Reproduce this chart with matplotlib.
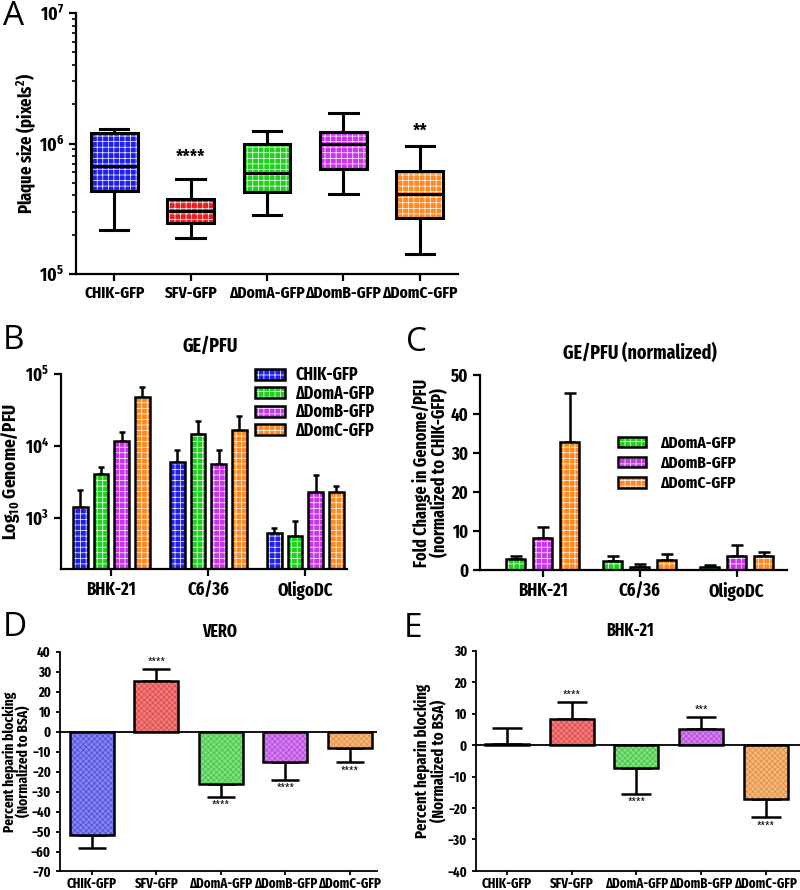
import numpy as np
import matplotlib.pyplot as plt
import matplotlib.patches as mpatches
from matplotlib import font_manager as fm
from matplotlib.transforms import Bbox


def pick_font():
    # the original figure uses a narrow bold sans; take the first static bold one found
    prefs = ['Liberation Sans Narrow', 'Arial Narrow', 'Fira Sans Extra Condensed',
             'Roboto Condensed', 'PT Sans Narrow', 'IBM Plex Sans Condensed',
             'Fira Sans Condensed', 'Asap Condensed']
    for p in prefs:
        for f in fm.fontManager.ttflist:
            w = f.weight if isinstance(f.weight, int) else (700 if 'bold' in str(f.weight) else 400)
            if f.name == p and w == 700 and f.style == 'normal' and '[' not in f.fname:
                return p
    return 'Liberation Sans'


FONT = pick_font()
plt.rcParams['font.family'] = [FONT, 'Liberation Sans', 'DejaVu Sans']
plt.rcParams['font.weight'] = 'bold'
plt.rcParams['axes.labelweight'] = 'bold'
plt.rcParams['mathtext.fontset'] = 'custom'
plt.rcParams['mathtext.rm'] = FONT + ':bold'
plt.rcParams['mathtext.it'] = FONT + ':bold'
plt.rcParams['mathtext.bf'] = FONT + ':bold'
plt.rcParams['hatch.linewidth'] = 0.5

# ---------------- data ----------------
viruses = ['CHIK-GFP', 'SFV-GFP', 'ΔDomA-GFP', 'ΔDomB-GFP', 'ΔDomC-GFP']

# A: plaque size box plots (pixels^2)
plaque_whislo = [2.17e5, 1.88e5, 2.82e5, 4.10e5, 1.42e5]
plaque_q1 = [4.35e5, 2.46e5, 4.23e5, 6.38e5, 2.70e5]
plaque_med = [6.76e5, 3.02e5, 5.97e5, 9.86e5, 4.10e5]
plaque_q3 = [1.21e6, 3.76e5, 9.90e5, 1.22e6, 6.12e5]
plaque_whishi = [1.29e6, 5.35e5, 1.25e6, 1.70e6, 9.57e5]
plaque_stars = ['', '****', '', '', '**']

# B: GE/PFU per cell line
cells = ['BHK-21', 'C6/36', 'OligoDC']
ge_names = ['CHIK-GFP', 'ΔDomA-GFP', 'ΔDomB-GFP', 'ΔDomC-GFP']
ge_chik = [1450, 6100, 620]
ge_chik_sd = [1020, 2700, 120]
ge_doma = [4070, 14900, 577]
ge_doma_sd = [1030, 7100, 340]
ge_domb = [11700, 5580, 2280]
ge_domb_sd = [4000, 3220, 1700]
ge_domc = [47700, 16900, 2320]
ge_domc_sd = [17800, 9500, 460]

# C: GE/PFU normalized to CHIK-GFP
norm_names = ['ΔDomA-GFP', 'ΔDomB-GFP', 'ΔDomC-GFP']
norm_doma = [2.8, 2.3, 0.8]
norm_doma_sd = [0.7, 1.2, 0.5]
norm_domb = [8.1, 0.8, 3.5]
norm_domb_sd = [2.8, 0.7, 2.9]
norm_domc = [32.8, 2.6, 3.6]
norm_domc_sd = [12.7, 1.6, 1.0]

# D/E: heparin blocking (%)
vero_block = [-51.9, 25.2, -26.2, -15.4, -8.3]
vero_sd = [6.3, 6.1, 6.6, 8.8, 7.1]
vero_stars = ['', '****', '****', '****', '****']
bhk_block = [0.3, 8.4, -7.2, 5.0, -17.1]
bhk_sd = [5.0, 5.2, 8.2, 4.0, 5.9]
bhk_stars = ['', '****', '****', '***', '****']

# colours
strong = {'CHIK-GFP': '#1f1fee', 'SFV-GFP': '#ee1c1c', 'ΔDomA-GFP': '#1fd01f',
          'ΔDomB-GFP': '#cc33ee', 'ΔDomC-GFP': '#ff8a22'}
light = {'CHIK-GFP': '#8585f2', 'SFV-GFP': '#f27a7a', 'ΔDomA-GFP': '#7ee07e',
         'ΔDomB-GFP': '#d67ef2', 'ΔDomC-GFP': '#f5b77a'}
light_h = {'CHIK-GFP': '#4a4ad6', 'SFV-GFP': '#d84848', 'ΔDomA-GFP': '#46bf46',
           'ΔDomB-GFP': '#b048d6', 'ΔDomC-GFP': '#dd8e45'}


def hatched_bars(ax, x, h, width, fc, hc, hatch, sd, capsize, lw, elw):
    h = np.asarray(h, float)
    sd = np.asarray(sd, float)
    lo = np.where(h < 0, sd, 0)
    hi = np.where(h >= 0, sd, 0)
    ax.errorbar(x, h, yerr=[lo, hi], fmt='none', ecolor='k', elinewidth=elw,
                capsize=capsize, capthick=elw, zorder=1)
    b1 = ax.bar(x, h, width, color=fc, edgecolor=hc, hatch=hatch, linewidth=0, zorder=2)
    b2 = ax.bar(x, h, width, fill=False, edgecolor='k', linewidth=lw, zorder=3)
    return (b1, b2)


def style_axes(ax, lw):
    for s in ['top', 'right']:
        ax.spines[s].set_visible(False)
    for s in ['left', 'bottom']:
        ax.spines[s].set_linewidth(lw)
    ax.tick_params(width=lw, direction='out')


fig = plt.figure(figsize=(8, 8.9), dpi=100)

# ---------------- A ----------------
axA = fig.add_axes([0.095, 0.6921, 0.4775, 0.2933])
stats = []
for i in range(len(viruses)):
    stats.append(dict(med=plaque_med[i], q1=plaque_q1[i], q3=plaque_q3[i],
                      whislo=plaque_whislo[i], whishi=plaque_whishi[i], fliers=[]))
xa = np.arange(len(viruses))
bp = axA.bxp(stats, positions=xa, widths=0.61, capwidths=0.37, patch_artist=True,
             showfliers=False, manage_ticks=False,
             boxprops=dict(linewidth=0),
             medianprops=dict(color='k', linewidth=2.2, zorder=5),
             whiskerprops=dict(color='k', linewidth=2.2),
             capprops=dict(color='k', linewidth=2.2))
for box, v in zip(bp['boxes'], viruses):
    box.set_facecolor(strong[v])
    box.set_edgecolor('white')
    box.set_hatch('+++')
    box.set_linewidth(0)
    axA.add_patch(mpatches.PathPatch(box.get_path(), transform=box.get_transform(),
                                     fill=False, edgecolor='k', linewidth=2.2, zorder=4))
axA.set_yscale('log')
axA.set_ylim(1e5, 1e7)
axA.set_xlim(-0.5, 4.5)
axA.set_yticks([1e5, 1e6, 1e7])
axA.set_yticklabels(['$10^{5}$', '$10^{6}$', '$10^{7}$'], fontsize=13.5)
axA.set_xticks(xa)
axA.set_xticklabels(viruses, fontsize=12)
axA.set_ylabel('Plaque size (pixels$^2$)', fontsize=13)
axA.yaxis.set_label_coords(-0.1, 0.5)
style_axes(axA, 1.6)
axA.tick_params(which='major', length=5)
axA.tick_params(which='minor', length=3, width=1.2)
for i, s in enumerate(plaque_stars):
    if s:
        off = 9 if len(s) > 2 else 4
        axA.annotate(s, (xa[i], plaque_whishi[i]), xytext=(0, off),
                     textcoords='offset points', ha='center', va='bottom', fontsize=13.5)

# ---------------- B ----------------
axB = fig.add_axes([0.07625, 0.361, 0.3575, 0.2188])
xg = np.arange(len(cells))
pitch_b = 0.213
handles = []
for k, (nm, vals, sd) in enumerate(zip(ge_names, [ge_chik, ge_doma, ge_domb, ge_domc],
                                       [ge_chik_sd, ge_doma_sd, ge_domb_sd, ge_domc_sd])):
    handles.append(hatched_bars(axB, xg + (k - 1.5) * pitch_b, vals, 0.152, strong[nm],
                                'white', '+++', sd, 2.5, 1.8, 1.8))
axB.set_yscale('log')
axB.set_ylim(200, 1e5)
axB.set_xlim(-0.52, 2.43)
axB.set_yticks([1e3, 1e4, 1e5])
axB.set_yticklabels(['$10^{3}$', '$10^{4}$', '$10^{5}$'], fontsize=13)
axB.yaxis.set_minor_locator(plt.NullLocator())
axB.set_xticks(xg)
axB.set_xticklabels(cells, fontsize=13)
axB.set_ylabel('Log$_{10}$ Genome/PFU', fontsize=13.5)
axB.yaxis.set_label_coords(-0.135, 0.5)
style_axes(axB, 1.6)
axB.tick_params(length=5)
axB.text(0.52, 1.144, 'GE/PFU', transform=axB.transAxes, ha='center', va='center', fontsize=14)
axB.legend(handles, ge_names, loc='upper left', bbox_to_anchor=(0.68, 1.04), frameon=False,
           borderpad=0, borderaxespad=0, labelspacing=0.05, handlelength=1.7,
           handleheight=0.6, handletextpad=0.6, fontsize=12.5)

# ---------------- C ----------------
axC = fig.add_axes([0.6, 0.3596, 0.3834, 0.2191])
pitch_c = 0.278
handles = []
for k, (nm, vals, sd) in enumerate(zip(norm_names, [norm_doma, norm_domb, norm_domc],
                                       [norm_doma_sd, norm_domb_sd, norm_domc_sd])):
    handles.append(hatched_bars(axC, xg + (k - 1) * pitch_c, vals, 0.196, strong[nm],
                                'white', '+++', sd, 4, 1.8, 1.8))
axC.set_ylim(0, 50)
axC.set_xlim(-0.644, 2.515)
axC.set_yticks([0, 10, 20, 30, 40, 50])
axC.tick_params(axis='y', labelsize=13)
axC.set_xticks(xg)
axC.set_xticklabels(cells, fontsize=13)
axC.set_ylabel('Fold Change in Genome/PFU\n(normalized to CHIK-GFP)', fontsize=12.5,
               multialignment='center', linespacing=1.0)
axC.yaxis.set_label_coords(-0.1, 0.5)
style_axes(axC, 1.6)
axC.tick_params(length=5)
axC.text(0.522, 1.113, 'GE/PFU (normalized)', transform=axC.transAxes, ha='center',
         va='center', fontsize=14)
axC.legend(handles, norm_names, loc='upper left', bbox_to_anchor=(0.45, 0.69), frameon=False,
           borderpad=0, borderaxespad=0, labelspacing=0.25, handlelength=1.7,
           handleheight=0.6, handletextpad=0.8, fontsize=12)


# ---------------- D / E ----------------
def heparin_panel(ax, vals, sd, stars, ylim, yticks, xlim, title, tx, capsize, lab_fs):
    x = np.arange(len(viruses))
    for i, v in enumerate(viruses):
        hatched_bars(ax, [x[i]], [vals[i]], 0.68, light[v], light_h[v], 'xxxxxx',
                     [sd[i]], capsize, 1.8, 1.8)
    ax.axhline(0, color='k', linewidth=1.3, zorder=4)
    ax.set_ylim(*ylim)
    ax.set_xlim(*xlim)
    ax.set_yticks(yticks)
    ax.tick_params(axis='y', labelsize=10)
    ax.set_xticks(x)
    ax.set_xticklabels(viruses, fontsize=10)
    ax.set_ylabel('Percent heparin blocking\n(Normalized to BSA)', fontsize=lab_fs,
                  multialignment='center', linespacing=0.95)
    style_axes(ax, 1.3)
    ax.tick_params(length=3)
    ax.tick_params(axis='x', pad=1)
    ax.text(tx, 1.09, title, transform=ax.transAxes, ha='center', va='center', fontsize=12.5)
    for i, s in enumerate(stars):
        if not s:
            continue
        if vals[i] >= 0:
            ax.annotate(s, (x[i], vals[i] + sd[i]), xytext=(0, 1.5), textcoords='offset points',
                        ha='center', va='bottom', fontsize=8.5, fontweight='normal')
        else:
            ax.annotate(s, (x[i], vals[i] - sd[i]), xytext=(0, -2), textcoords='offset points',
                        ha='center', va='top', fontsize=8.5, fontweight='normal')


axD = fig.add_axes([0.075, 0.0208, 0.396, 0.247])
heparin_panel(axD, vero_block, vero_sd, vero_stars, (-70, 40), np.arange(-70, 41, 10),
              (-0.496, 4.42), 'VERO', 0.505, 10, 10.5)
axD.yaxis.set_label_coords(-0.092, 0.5)

axE = fig.add_axes([0.595, 0.0214, 0.405, 0.2474])
heparin_panel(axE, bhk_block, bhk_sd, bhk_stars, (-40, 30), np.arange(-40, 31, 10),
              (-0.48, 4.53), 'BHK-21', 0.475, 11, 11.5)
axE.yaxis.set_label_coords(-0.09, 0.5)

# clip the last D label at the panel edge like the original
lab = axD.get_xticklabels()[-1]
lab.set_clip_box(Bbox([[0, 0], [383, 890]]))
lab.set_clip_on(True)

# panel letters
for letter, xx, yy in [('A', 0.004, 0.982), ('B', 0.004, 0.617), ('C', 0.508, 0.615),
                       ('D', 0.004, 0.295), ('E', 0.505, 0.294)]:
    fig.text(xx, yy, letter, ha='left', va='center', fontsize=24, fontweight='normal',
             family='Open Sans')

fig.savefig('out.png', dpi=100)
